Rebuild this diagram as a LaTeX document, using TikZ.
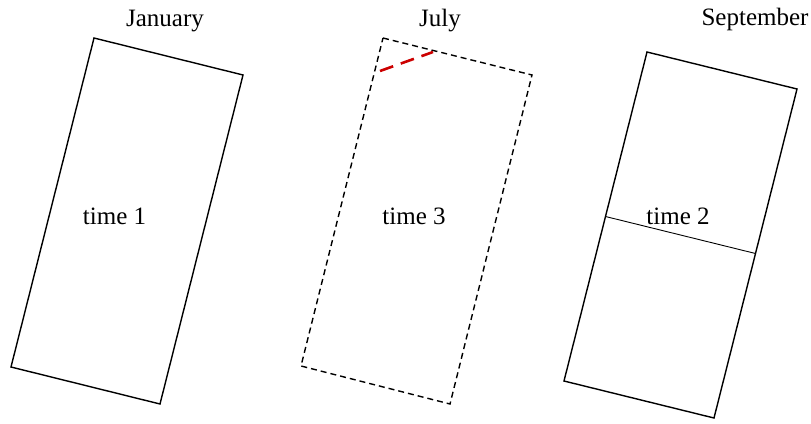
\documentclass[tikz,border=0pt]{standalone}
\usepackage{fontspec}
\setmainfont{Liberation Serif}
\usetikzlibrary{calc}
\definecolor{darkred}{RGB}{204,0,0}
\begin{document}
\begin{tikzpicture}[x=1pt,y=-1pt,
  lbl/.style={anchor=base,inner sep=0pt,font=\fontsize{25}{30}\selectfont},
  frame/.style={line width=1.4pt,line join=miter},
  dframe/.style={line width=1.4pt,dash pattern=on 6pt off 4pt},
  divider/.style={line width=0.9pt},
  reddash/.style={draw=darkred,line width=2.6pt,dash pattern=on 14pt off 8pt}]
\useasboundingbox (0,0) rectangle (811,423);
% rectangle 1
\coordinate (a1) at (94,38);
\coordinate (b1) at (243,75);
\coordinate (c1) at (160,404);
\coordinate (d1) at (11,367);
\draw[frame] (a1) -- (b1) -- (c1) -- (d1) -- cycle;
% rectangle 2 (dashed)
\coordinate (a2) at (383,38);
\coordinate (b2) at (532,75);
\coordinate (c2) at (450,404);
\coordinate (d2) at (301,366);
\draw[dframe] (a2) -- (b2) -- (c2) -- (d2) -- cycle;
\coordinate (r1) at (380,71);
\coordinate (r2) at (433,52);
\draw[reddash] (r1) -- (r2);
% rectangle 3
\coordinate (a3) at (647,52);
\coordinate (b3) at (797,89);
\coordinate (c3) at (714,418);
\coordinate (d3) at (564,381);
\draw[frame] (a3) -- (b3) -- (c3) -- (d3) -- cycle;
\coordinate (m1) at ($(a3)!0.5!(d3)$);
\coordinate (m2) at ($(b3)!0.5!(c3)$);
\draw[divider] (m1) -- (m2);
% labels
\node[lbl] (jan) at (165,27) {January};
\node[lbl] (jul) at (440,27) {July};
\node[lbl] (sep) at (755,25) {September};
\node[lbl] (t1) at (114.5,224) {time 1};
\node[lbl] (t3) at (414,224) {time 3};
\node[lbl] (t2) at (678,224) {time 2};
\end{tikzpicture}
\end{document}
